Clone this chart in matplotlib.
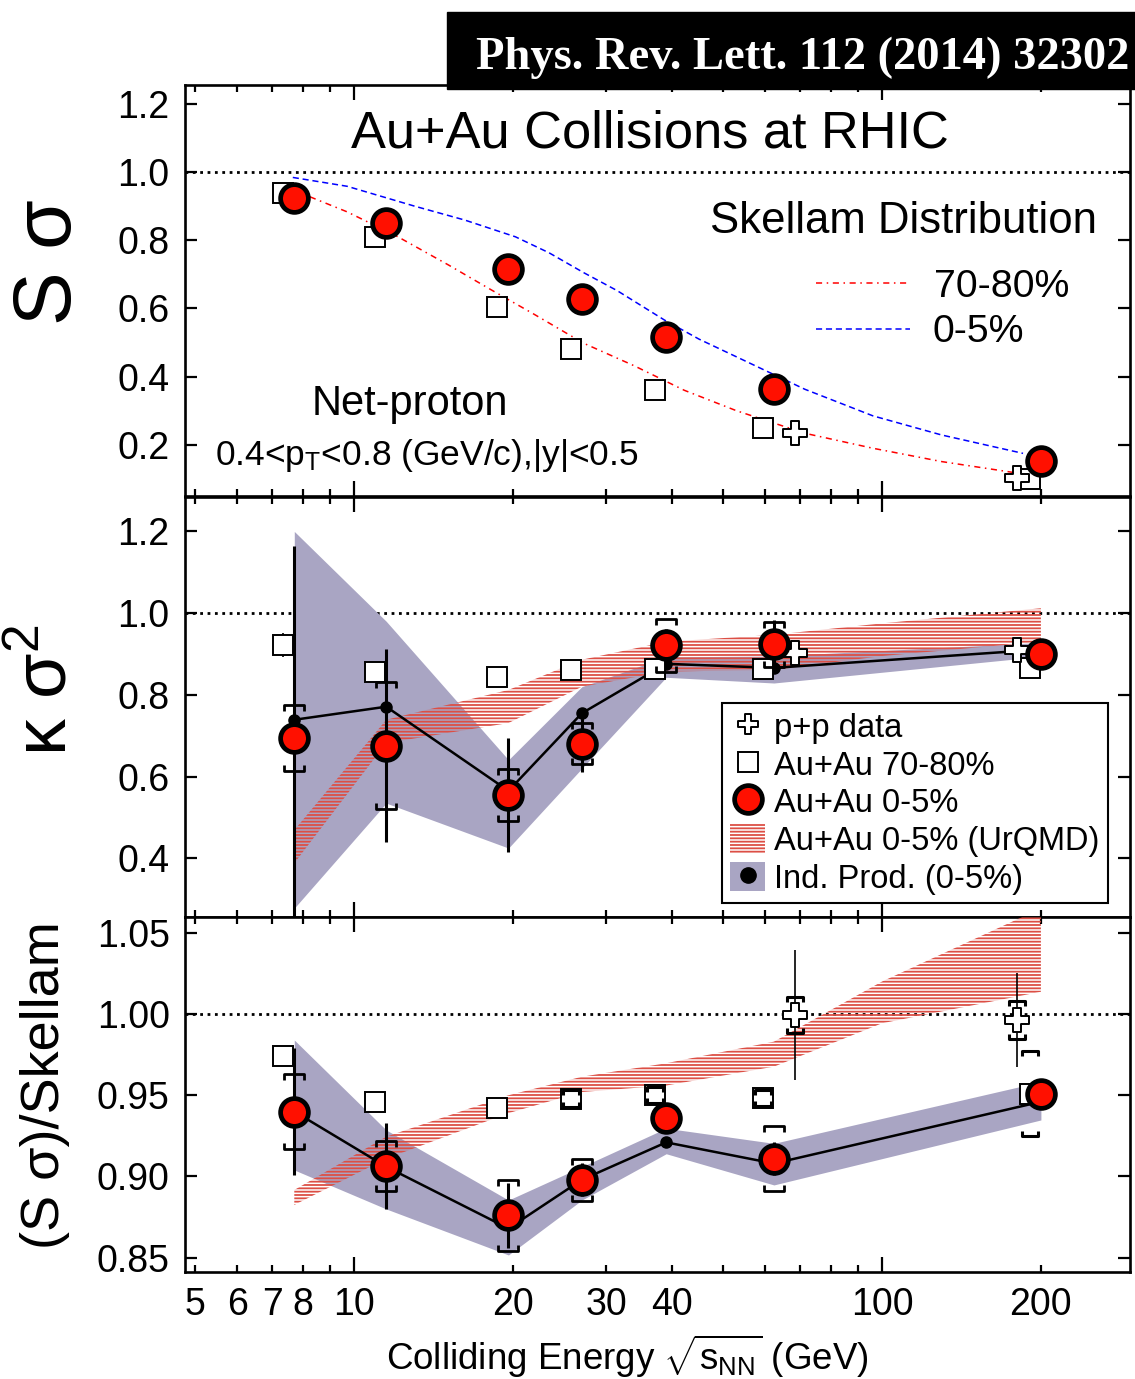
import numpy as np
import matplotlib
matplotlib.use('Agg')
import matplotlib.pyplot as plt
from matplotlib.path import Path
from matplotlib.patches import Patch, Rectangle
from matplotlib.lines import Line2D
from matplotlib.ticker import FixedLocator, FuncFormatter, MultipleLocator

plt.rcParams['font.family'] = ['Liberation Sans', 'DejaVu Sans']
plt.rcParams['mathtext.fontset'] = 'custom'
plt.rcParams['mathtext.rm'] = 'Liberation Sans'
plt.rcParams['mathtext.it'] = 'Liberation Sans:italic'
plt.rcParams['mathtext.sf'] = 'Liberation Sans'
plt.rcParams['hatch.linewidth'] = 1.3

# ---------------- data ----------------
energy = [7.7, 11.5, 19.6, 27, 39, 62.4, 200]
pp_energy = [62.4, 200]
urqmd_energy = [7.7, 11.5, 19.6, 27, 39, 62.4, 100, 200]

# S sigma
ss_central = [0.925, 0.849, 0.717, 0.629, 0.517, 0.363, 0.154]
ss_periph = [0.937, 0.810, 0.605, 0.480, 0.361, 0.249, 0.100]
ss_pp = [0.234, 0.102]
skellam_central_e = [7.65, 9.7, 13.0, 16.2, 20.2, 23.4, 27.2, 31.5, 38.7, 45.0, 53.0, 71.4, 96.1, 129.6, 185]
skellam_central = [0.984, 0.958, 0.900, 0.859, 0.810, 0.763, 0.705, 0.652, 0.566, 0.510, 0.458, 0.363, 0.285, 0.229, 0.175]
skellam_periph_e = [7.7, 8.1, 9.7, 12.1, 15.1, 18.2, 21.8, 27.2, 33.9, 42.2, 53.0, 71.4, 96.1, 129.6, 190]
skellam_periph = [0.945, 0.932, 0.883, 0.810, 0.727, 0.654, 0.585, 0.498, 0.432, 0.360, 0.300, 0.234, 0.190, 0.151, 0.112]

# kappa sigma^2
kk_central = [0.694, 0.676, 0.555, 0.680, 0.921, 0.924, 0.900]
kk_stat = [0.47, 0.237, 0.14, 0.07, 0.04, 0.06, 0.02]
kk_sys = [0.08, 0.155, 0.063, 0.05, 0.065, 0.055, 0.01]
kk_periph = [0.922, 0.857, 0.843, 0.861, 0.863, 0.863, 0.865]
kk_periph_stat = [0.03, 0.0, 0.0, 0.0, 0.0, 0.0, 0.0]
kk_pp = [0.902, 0.910]
kk_ind = [0.739, 0.771, 0.565, 0.755, 0.876, 0.866, 0.911]
kk_ind_lo = [0.278, 0.535, 0.425, 0.620, 0.843, 0.829, 0.894]
kk_ind_hi = [1.200, 0.980, 0.641, 0.820, 0.893, 0.895, 0.928]
kk_urqmd_lo = [0.388, 0.682, 0.731, 0.820, 0.857, 0.861, 0.895, 0.930]
kk_urqmd_hi = [0.469, 0.739, 0.812, 0.886, 0.930, 0.947, 0.975, 1.012]

# (S sigma)/Skellam
ratio_central = [0.940, 0.9065, 0.876, 0.898, 0.936, 0.911, 0.9506]
ratio_stat = [0.039, 0.0265, 0.020, 0.010, 0.006, 0.010, 0.004]
ratio_sys = [0.023, 0.0155, 0.022, 0.0128, 0.006, 0.020, 0.005]
ratio_periph = [0.9744, 0.946, 0.942, 0.948, 0.950, 0.9485, 0.951]
ratio_periph_sys = [0.0, 0.0, 0.0, 0.005, 0.005, 0.005, 0.026]
ratio_pp = [0.9994, 0.9963]
ratio_pp_stat = [0.040, 0.029]
ratio_pp_sys = [0.011, 0.0115]
ratio_ind = [0.940, 0.906, 0.868, 0.898, 0.921, 0.908, 0.946]
ratio_ind_lo = [0.904, 0.880, 0.8517, 0.8855, 0.914, 0.8948, 0.9348]
ratio_ind_hi = [0.984, 0.9286, 0.8855, 0.906, 0.9297, 0.9204, 0.9583]
ratio_urqmd_lo = [0.8825, 0.911, 0.939, 0.952, 0.956, 0.9676, 0.9943, 1.0137]
ratio_urqmd_hi = [0.8917, 0.9245, 0.950, 0.9614, 0.9697, 0.983, 1.020, 1.065]

xtick_labels = [5, 6, 7, 8, 10, 20, 30, 40, 100, 200]

# ---------------- styling ----------------
W, H = 1135, 1379
PERIPH_SHIFT = 0.952
PP_SHIFT = [1.095, 0.9]
band_color = '#a9a5c3'
urqmd_color = '#dc4f45'
AX_L, AX_R = 185, 1130


def fx(px):
    return px / W


def fy(py):
    return 1 - py / H


cross_marker = Path([(-1/3, -1), (1/3, -1), (1/3, -1/3), (1, -1/3), (1, 1/3), (1/3, 1/3),
                     (1/3, 1), (-1/3, 1), (-1/3, 1/3), (-1, 1/3), (-1, -1/3), (-1/3, -1/3),
                     (-1/3, -1)], closed=True)
cap_top = Path([(-1, -0.6), (-1, 0), (1, 0), (1, -0.6)])
cap_bot = Path([(-1, 0.6), (-1, 0), (1, 0), (1, 0.6)])


def brackets(ax, x, y, err, ms=14, lw=2.0):
    x = np.asarray(x); y = np.asarray(y); err = np.asarray(err)
    m = err > 0
    ax.plot(x[m], (y + err)[m], ls='none', marker=cap_top, ms=ms, mfc='none', mec='k', mew=lw, zorder=6)
    ax.plot(x[m], (y - err)[m], ls='none', marker=cap_bot, ms=ms, mfc='none', mec='k', mew=lw, zorder=6)


def central(ax, y):
    ax.plot(energy, y, ls='none', marker='o', ms=20, mfc='#ff1000', mec='k', mew=3.4, zorder=8)


def periph(ax, y):
    ax.plot(np.array(energy) * PERIPH_SHIFT, y, ls='none', marker='s', ms=15, mfc='white',
            mec='k', mew=1.4, zorder=5)


def pp(ax, y):
    ax.plot(np.array(pp_energy) * np.array(PP_SHIFT), y, ls='none', marker=cross_marker, ms=17,
            mfc='white', mec='k', mew=1.4, zorder=7)


def style_axis(ax, ylim, major, show_x=False):
    ax.set_xscale('log')
    ax.set_xlim(4.78, 295)
    ax.set_ylim(*ylim)
    ax.xaxis.set_major_locator(FixedLocator([10, 100]))
    ax.xaxis.set_minor_locator(FixedLocator([5, 6, 7, 8, 9, 20, 30, 40, 50, 60, 70, 80, 90, 200]))
    if show_x:
        ax.xaxis.set_major_formatter(FuncFormatter(lambda v, p: '%g' % v))
        ax.xaxis.set_minor_formatter(FuncFormatter(
            lambda v, p: '%g' % v if int(round(v)) in xtick_labels else ''))
    else:
        ax.xaxis.set_major_formatter(FuncFormatter(lambda v, p: ''))
        ax.xaxis.set_minor_formatter(FuncFormatter(lambda v, p: ''))
    ax.yaxis.set_major_locator(MultipleLocator(major))
    ax.tick_params(which='both', direction='in', top=True, right=True, labelsize=27, width=1.6)
    ax.tick_params(axis='x', which='major', length=11, pad=11)
    ax.tick_params(axis='x', which='minor', length=5, pad=11)
    ax.tick_params(axis='y', which='major', length=8.5, pad=11)
    for s in ax.spines.values():
        s.set_linewidth(1.9)
    ax.axhline(1.0, color='k', ls=':', lw=2.0, zorder=1)


fig = plt.figure(figsize=(W / 100, H / 100), dpi=100)
ax1 = fig.add_axes([fx(AX_L), fy(496), fx(AX_R) - fx(AX_L), fy(85) - fy(496)])
ax2 = fig.add_axes([fx(AX_L), fy(916.7), fx(AX_R) - fx(AX_L), fy(496.7) - fy(916.7)])
ax3 = fig.add_axes([fx(AX_L), fy(1271.7), fx(AX_R) - fx(AX_L), fy(916.7) - fy(1271.7)])

# ---------------- top: S sigma ----------------
style_axis(ax1, (0.05, 1.255), 0.2)
ax1.yaxis.set_major_formatter(FuncFormatter(lambda v, p: '%.1f' % v))
ax1.plot(skellam_periph_e, skellam_periph, color='red', ls=(0, (4, 3, 1, 3)), lw=1.1, zorder=3)
ax1.plot(skellam_central_e, skellam_central, color='blue', ls=(0, (4, 2.5)), lw=1.1, zorder=3)
periph(ax1, ss_periph)
pp(ax1, ss_pp)
central(ax1, ss_central)

# ---------------- middle: kappa sigma^2 ----------------
style_axis(ax2, (0.257, 1.285), 0.2)
ax2.yaxis.set_major_formatter(FuncFormatter(lambda v, p: '%.1f' % v))
ax2.fill_between(energy, kk_ind_lo, kk_ind_hi, color=band_color, lw=0, zorder=2)
ax2.fill_between(urqmd_energy, kk_urqmd_lo, kk_urqmd_hi, facecolor='none',
                 edgecolor=urqmd_color, hatch='-----', lw=0, zorder=3)
ax2.plot(energy, kk_ind, color='k', lw=1.8, marker='o', ms=8, zorder=4)
periph(ax2, kk_periph)
ax2.errorbar(np.array(energy) * PERIPH_SHIFT, kk_periph, yerr=kk_periph_stat, fmt='none',
             ecolor='k', elinewidth=1.2, zorder=4)
pp(ax2, kk_pp)
ax2.errorbar(energy, kk_central, yerr=kk_stat, fmt='none', ecolor='k', elinewidth=2.2, zorder=6)
brackets(ax2, energy, kk_central, kk_sys)
central(ax2, kk_central)

# ---------------- bottom: ratio ----------------
style_axis(ax3, (0.8414, 1.0599), 0.05, show_x=True)
ax3.yaxis.set_major_formatter(FuncFormatter(lambda v, p: '%.2f' % v))
ax3.fill_between(energy, ratio_ind_lo, ratio_ind_hi, color=band_color, lw=0, zorder=2)
ax3.fill_between(urqmd_energy, ratio_urqmd_lo, ratio_urqmd_hi, facecolor='none',
                 edgecolor=urqmd_color, hatch='-----', lw=0, zorder=3)
ax3.plot(energy, ratio_ind, color='k', lw=1.8, zorder=4)
ax3.plot(energy[4:5], ratio_ind[4:5], ls='none', marker='o', ms=8, color='k', zorder=4)
periph(ax3, ratio_periph)
brackets(ax3, np.array(energy) * PERIPH_SHIFT, ratio_periph, ratio_periph_sys, ms=12, lw=2.2)
pp_x = np.array(pp_energy) * np.array(PP_SHIFT)
ax3.errorbar(pp_x, ratio_pp, yerr=ratio_pp_stat, fmt='none', ecolor='k', elinewidth=1.2, zorder=6)
brackets(ax3, pp_x, ratio_pp, ratio_pp_sys, ms=12, lw=2.2)
pp(ax3, ratio_pp)
ax3.errorbar(energy, ratio_central, yerr=ratio_stat, fmt='none', ecolor='k', elinewidth=2.2, zorder=6)
brackets(ax3, energy, ratio_central, ratio_sys)
central(ax3, ratio_central)

# ---------------- legend (middle panel) ----------------
handles = [
    Line2D([], [], ls='none', marker=cross_marker, ms=15, mfc='white', mec='k', mew=1.4),
    Line2D([], [], ls='none', marker='s', ms=14, mfc='white', mec='k', mew=1.4),
    Line2D([], [], ls='none', marker='o', ms=20, mfc='#ff1000', mec='k', mew=3.4),
    Patch(facecolor='white', edgecolor=urqmd_color, hatch='-----', lw=0),
    (Patch(facecolor=band_color, edgecolor='none'),
     Line2D([], [], ls='none', marker='o', ms=11, color='k')),
]
labels = ['p+p data', 'Au+Au 70-80%', 'Au+Au 0-5%', 'Au+Au 0-5% (UrQMD)', 'Ind. Prod. (0-5%)']
leg = ax2.legend(handles, labels, loc='lower right',
                 bbox_to_anchor=((1108 - AX_L) / (AX_R - AX_L), 0.033),
                 fontsize=23.5, frameon=True, fancybox=False, edgecolor='k', framealpha=1,
                 handlelength=1.05, handleheight=1.0, handletextpad=0.3, labelspacing=0.15,
                 borderpad=0.25, borderaxespad=0)
leg.get_frame().set_linewidth(1.5)
leg.set_zorder(20)

# ---------------- texts ----------------
fig.text(fx(650), fy(148), 'Au+Au Collisions at RHIC', ha='center', va='baseline', fontsize=37.7)
fig.text(fx(710), fy(233), 'Skellam Distribution', ha='left', va='baseline', fontsize=31.5)
fig.text(fx(934), fy(297), '70-80%', ha='left', va='baseline', fontsize=28.3)
fig.text(fx(933), fy(342), '0-5%', ha='left', va='baseline', fontsize=28.3)
fig.add_artist(Line2D([fx(816), fx(907)], [fy(283), fy(283)], color='red',
                      ls=(0, (4, 3, 1, 3)), lw=1.1))
fig.add_artist(Line2D([fx(816), fx(910)], [fy(329), fy(329)], color='blue',
                      ls=(0, (4, 2.5)), lw=1.1))
fig.text(fx(312), fy(415), 'Net-proton', ha='left', va='baseline', fontsize=30)
fig.text(fx(215), fy(465), r'0.4<p$_{\mathrm{T}}$<0.8 (GeV/c),|y|<0.5', ha='left',
         va='baseline', fontsize=25.5)

fig.text(fx(50), fy(262), 'S σ', rotation=90, ha='center', va='center', fontsize=58)
fig.text(fx(47), fy(690), r'κ σ$^{2}$', rotation=90, ha='center', va='center', fontsize=53)
fig.text(fx(45), fy(1085), '(S σ)/Skellam', rotation=90, ha='center', va='center', fontsize=39)
fig.text(fx(627), fy(1370), r'Colliding Energy $\sqrt{\mathrm{s}_{\mathrm{NN}}}$ (GeV)', ha='center',
         va='baseline', fontsize=26.5)

# journal banner
fig.add_artist(Rectangle((fx(447), fy(89)), fx(1135) - fx(447), fy(12) - fy(89),
                         transform=fig.transFigure, color='k', zorder=10))
fig.text(fx(476), fy(69), 'Phys. Rev. Lett. 112 (2014) 32302', ha='left', va='baseline',
         fontsize=33.5, color='white', family='Liberation Serif', weight='bold', zorder=11)

fig.savefig('out.png', dpi=100)
